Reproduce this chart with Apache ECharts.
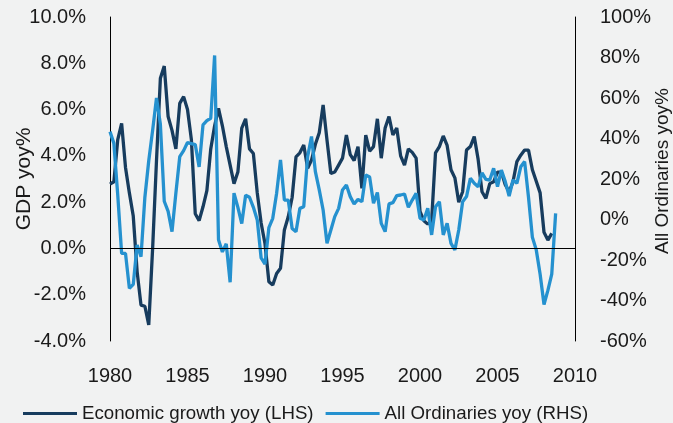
<!DOCTYPE html>
<html>
<head>
<meta charset="utf-8">
<script src="https://cdn.jsdelivr.net/npm/echarts@6/dist/echarts.min.js"></script>
<style>
html,body{margin:0;padding:0;background:#f1f2f2;}
#chart{width:673px;height:423px;}
</style>
</head>
<body>
<div id="chart"></div>
<script>
// Quarterly data starting 1980 Q1
var startYear = 1980;
var xTicks = [1980, 1985, 1990, 1995, 2000, 2005, 2010];
var leftTicks = [-4, -2, 0, 2, 4, 6, 8, 10];
var rightTicks = [-60, -40, -20, 0, 20, 40, 60, 80, 100];
var seriesNames = ['Economic growth yoy (LHS)', 'All Ordinaries yoy (RHS)'];

var gdp = [2.78,2.88,4.7,5.4,3.5,2.4,1.4,-1.0,-2.45,-2.5,-3.3,0.0,3.8,7.35,7.88,5.7,5.1,4.3,6.27,6.56,
  6.0,4.7,1.5,1.2,1.8,2.5,4.3,5.3,6.05,5.3,4.4,3.6,2.8,3.3,5.2,5.6,4.3,4.1,2.4,1.1,
  0.2,-1.44,-1.58,-1.08,-0.86,0.8,1.37,2.2,3.96,4.13,4.47,3.46,3.82,4.5,5.0,6.2,4.68,3.24,3.3,3.6,
  3.9,4.9,4.05,3.8,4.4,2.6,4.9,4.2,4.4,5.6,3.9,5.2,5.7,4.9,5.2,4.0,3.6,4.3,4.15,3.9,
  1.6,1.2,1.05,1.2,4.13,4.4,4.86,4.45,3.4,3.05,2.0,2.45,4.25,4.4,4.83,3.85,2.45,2.16,2.8,2.88,
  3.3,3.3,2.75,2.45,2.88,3.75,4.03,4.25,4.25,3.4,2.9,2.4,0.7,0.36,0.65];

var allOrds = [43.4,37.6,12,-16.7,-16.7,-34,-32,-12.6,-18.4,11,29,44,60,47,9,4,-6,13,31,34,
  38,37.5,37,26,46.7,48.8,50,81,-10,-16,-12,-31,13,6,-2,12,11,6,-0.2,-19,
  -22,-4,0.6,13,29.4,9.6,9.6,-4.4,-6,5.5,6.3,31,41,23.6,14.6,4.7,-11.8,-5.2,1.4,5.5,
  14.6,17,11.3,7.7,9.9,8.8,22,21,8,13.3,-1.9,-6,7.7,8.3,11.8,12.1,12.6,6,9.6,12.9,
  0.6,-0.2,5.5,-7.6,6.3,8.8,-7.6,-1.9,-11.8,-15,-5.2,8.8,11.3,20.3,17.9,16.2,23,19.8,19.5,25.3,
  16.2,24.4,18.7,11.6,19.5,17.9,26,28.6,11,-8.8,-15,-27,-42,-35,-27,3];

function toPairs(arr){
  return arr.map(function(v,i){ return [startYear + i/4, v]; });
}

var chart = echarts.init(document.getElementById('chart'), null, {renderer:'canvas'});
var txt = '#1a1a1a';
var font = 'Liberation Sans, Arial, sans-serif';
chart.setOption({
  backgroundColor: '#f1f2f2',
  animation: false,
  textStyle: {fontFamily: font},
  grid: {left: 110, right: 98, top: 17, bottom: 82, containLabel: false, outerBoundsMode: 'none'},
  legend: {
    left: 18, top: 399,
    itemWidth: 54, itemHeight: 3, itemGap: 12,
    icon: 'rect',
    textStyle: {fontSize: 18.7, color: txt, fontFamily: font},
    data: seriesNames
  },
  xAxis: {
    type: 'value', min: xTicks[0], max: xTicks[xTicks.length-1], interval: 5,
    axisLine: {show: false}, axisTick: {show: false}, splitLine: {show: false},
    axisLabel: {fontSize: 20, color: txt, margin: 25, fontFamily: font,
      formatter: function(v){ return String(v); }}
  },
  yAxis: [{
    type: 'value', min: leftTicks[0], max: leftTicks[leftTicks.length-1], interval: 2,
    position: 'left',
    name: 'GDP yoy%', nameLocation: 'middle', nameRotate: 90, nameGap: 75,
    nameMoveOverlap: false,
    nameTextStyle: {fontSize: 21, color: txt, fontFamily: font},
    axisLine: {show: true, lineStyle: {color: '#000', width: 1}},
    axisTick: {show: false}, splitLine: {show: false},
    axisLabel: {fontSize: 20, color: txt, margin: 24, fontFamily: font,
      formatter: function(v){ return v.toFixed(1) + '%'; }}
  }, {
    type: 'value', min: rightTicks[0], max: rightTicks[rightTicks.length-1], interval: 20,
    position: 'right', alignTicks: false,
    name: 'All Ordinaries yoy%', nameLocation: 'middle', nameRotate: 90, nameGap: 78,
    nameMoveOverlap: false,
    nameTextStyle: {fontSize: 19, color: txt, fontFamily: font, padding: [0, 0, 0, 16]},
    axisLine: {show: true, lineStyle: {color: '#000', width: 1}},
    axisTick: {show: false}, splitLine: {show: false},
    axisLabel: {fontSize: 20, color: txt, margin: 25, fontFamily: font,
      formatter: function(v){ return v + '%'; }}
  }],
  series: [{
    name: seriesNames[0], type: 'line', yAxisIndex: 0,
    data: toPairs(gdp), showSymbol: false, symbol: 'none',
    lineStyle: {color: '#173c5e', width: 3.3}, itemStyle: {color: '#173c5e'},
    markLine: {
      silent: true, symbol: 'none', label: {show: false},
      lineStyle: {color: '#000', width: 1, type: 'solid'},
      data: [{yAxis: 0}]
    }
  }, {
    name: seriesNames[1], type: 'line', yAxisIndex: 1,
    data: toPairs(allOrds), showSymbol: false, symbol: 'none',
    lineStyle: {color: '#2591cf', width: 3.3}, itemStyle: {color: '#2591cf'}
  }]
});
</script>
</body>
</html>
